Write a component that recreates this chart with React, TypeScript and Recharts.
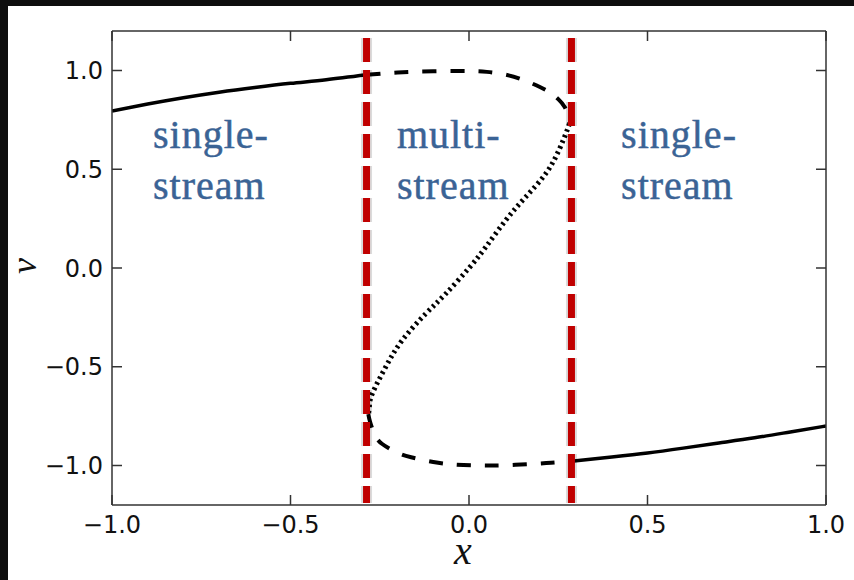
import React from 'react';
import { LineChart, Line, XAxis, YAxis, ReferenceLine, ReferenceDot } from 'recharts';

// Phase-space sheet v(x), split into single- and multi-stream pieces
const outerLeft: [number, number][] = [
  [-1.0, 0.795], [-0.9, 0.83], [-0.8, 0.862], [-0.7, 0.89], [-0.6, 0.914],
  [-0.5, 0.935], [-0.4, 0.953], [-0.287, 0.978],
];
const foldTop: [number, number][] = [
  [-0.287, 0.978], [-0.2, 0.99], [-0.1, 0.996], [0.0, 0.997], [0.05, 0.993],
  [0.1, 0.98], [0.154, 0.951], [0.2, 0.915], [0.226, 0.89], [0.25, 0.855],
  [0.268, 0.815], [0.278, 0.77], [0.281, 0.73],
];
const innerBranch: [number, number][] = [
  [0.281, 0.73], [0.275, 0.698], [0.252, 0.597], [0.215, 0.478], [0.159, 0.36],
  [0.103, 0.242], [0.047, 0.106], [0.0, 0.0], [-0.065, -0.13], [-0.121, -0.231],
  [-0.187, -0.366], [-0.233, -0.5], [-0.271, -0.637], [-0.279, -0.7], [-0.282, -0.74],
];
const foldBottom: [number, number][] = [
  [-0.282, -0.74], [-0.277, -0.78], [-0.265, -0.84], [-0.244, -0.89], [-0.2, -0.935],
  [-0.162, -0.958], [-0.1, -0.982], [-0.04, -0.995], [0.03, -1.0], [0.1, -0.999],
  [0.18, -0.992], [0.23, -0.986], [0.287, -0.978],
];
const outerRight: [number, number][] = [
  [0.287, -0.978], [0.4, -0.957], [0.5, -0.937], [0.6, -0.912], [0.7, -0.886],
  [0.8, -0.86], [0.9, -0.83], [1.0, -0.8],
];

// Caustic positions bounding the multi-stream region
const causticX = [-0.287, 0.287];

const xTicks = [-1.0, -0.5, 0.0, 0.5, 1.0];
const yTicks = [-1.0, -0.5, 0.0, 0.5, 1.0];

// Region captions: [x, v, first line, second line]
const regionLabels: [number, number, string, string][] = [
  [-0.885, 0.607, 'single-', 'stream'],
  [-0.202, 0.607, 'multi-', 'stream'],
  [0.426, 0.607, 'single-', 'stream'],
];

const toRows = (pts: [number, number][]) => pts.map(([x, v]) => ({ x, v }));

const AXIS = '#333333';
const TEXT = '#111111';
const TICK_FONT = 'DejaVu Sans';
const SERIF = 'Liberation Serif';
const LABEL_BLUE = '#3a6395';
const fmt = (n: number) => (n < 0 ? '\u2212' : '') + Math.abs(n).toFixed(1);

const BottomTick = (p: any) => (
  <g>
    <line x1={p.x} x2={p.x} y1={p.y} y2={p.y - 10} stroke={AXIS} strokeWidth={1.5} />
    <text x={p.x} y={p.y + 28} textAnchor="middle" fontFamily={TICK_FONT} fontSize={24} fill={TEXT}>
      {fmt(p.payload.value)}
    </text>
  </g>
);
const TopTick = (p: any) => (
  <line x1={p.x} x2={p.x} y1={p.y} y2={p.y + 10} stroke={AXIS} strokeWidth={1.5} />
);
const LeftTick = (p: any) => (
  <g>
    <line x1={p.x} x2={p.x + 10} y1={p.y} y2={p.y} stroke={AXIS} strokeWidth={1.5} />
    <text x={p.x - 9} y={p.y + 8.5} textAnchor="end" fontFamily={TICK_FONT} fontSize={24} fill={TEXT}>
      {fmt(p.payload.value)}
    </text>
  </g>
);
const RightTick = (p: any) => (
  <line x1={p.x} x2={p.x - 10} y1={p.y} y2={p.y} stroke={AXIS} strokeWidth={1.5} />
);

const RegionText = (first: string, second: string) => (p: any) => (
  <text
    x={p.cx}
    y={p.cy}
    fontFamily={SERIF}
    fontSize={40}
    letterSpacing={1}
    fill={LABEL_BLUE}
    stroke={LABEL_BLUE}
    strokeWidth={0.5}
  >
    <tspan x={p.cx}>{first}</tspan>
    <tspan x={p.cx} dy={51}>{second}</tspan>
  </text>
);

export default function App() {
  return (
    <div style={{ position: 'fixed', left: 0, top: 0, width: 854, height: 580, background: '#0e0e0e' }}>
      <div style={{ position: 'absolute', left: 8, top: 6, width: 846, height: 574, background: '#ffffff' }} />
      <div style={{ position: 'absolute', left: 0, top: 0 }}>
        <LineChart width={854} height={580} margin={{ top: 30, right: 27, left: 0, bottom: 0 }}>
          <XAxis
            xAxisId="bottom"
            type="number"
            dataKey="x"
            domain={[-1, 1]}
            ticks={xTicks}
            interval={0}
            allowDataOverflow
            height={75}
            tickSize={0}
            tickMargin={0}
            tickLine={false}
            axisLine={{ stroke: AXIS, strokeWidth: 1.5 }}
            tick={BottomTick}
            label={{
              content: () => (
                <text x={463} y={564} textAnchor="middle" fontFamily={SERIF} fontStyle="italic" fontSize={40} fill={TEXT}>
                  x
                </text>
              ),
            }}
          />
          <XAxis
            xAxisId="top"
            orientation="top"
            type="number"
            dataKey="x"
            domain={[-1, 1]}
            ticks={xTicks}
            interval={0}
            allowDataOverflow
            height={1}
            tickSize={0}
            tickMargin={0}
            tickLine={false}
            axisLine={{ stroke: AXIS, strokeWidth: 1.5 }}
            tick={TopTick}
          />
          <YAxis
            yAxisId="left"
            type="number"
            domain={[-1.2, 1.2]}
            ticks={yTicks}
            interval={0}
            allowDataOverflow
            width={112}
            tickSize={0}
            tickMargin={0}
            tickLine={false}
            axisLine={{ stroke: AXIS, strokeWidth: 1.5 }}
            tick={LeftTick}
            label={{
              content: () => (
                <text
                  x={36}
                  y={266}
                  transform="rotate(-90 36 266)"
                  textAnchor="middle"
                  fontFamily={SERIF}
                  fontStyle="italic"
                  fontSize={36}
                  fill={TEXT}
                >
                  v
                </text>
              ),
            }}
          />
          <YAxis
            yAxisId="right"
            orientation="right"
            type="number"
            domain={[-1.2, 1.2]}
            ticks={yTicks}
            interval={0}
            allowDataOverflow
            width={1}
            tickSize={0}
            tickMargin={0}
            tickLine={false}
            axisLine={{ stroke: AXIS, strokeWidth: 1.5 }}
            tick={RightTick}
          />

          <Line xAxisId="bottom" yAxisId="left" data={toRows(outerLeft)} dataKey="v" type="natural" stroke="#000" strokeWidth={3.5} dot={false} activeDot={false} isAnimationActive={false} />
          <Line xAxisId="bottom" yAxisId="left" data={toRows(foldTop)} dataKey="v" type="natural" stroke="#000" strokeWidth={4} strokeDasharray="14 14" dot={false} activeDot={false} isAnimationActive={false} />
          <Line xAxisId="bottom" yAxisId="left" data={toRows(innerBranch)} dataKey="v" type="natural" stroke="#000" strokeWidth={5} strokeDasharray="2.5 3.5" dot={false} activeDot={false} isAnimationActive={false} />
          <Line xAxisId="bottom" yAxisId="left" data={toRows(foldBottom)} dataKey="v" type="natural" stroke="#000" strokeWidth={4} strokeDasharray="14 14" dot={false} activeDot={false} isAnimationActive={false} />
          <Line xAxisId="bottom" yAxisId="left" data={toRows(outerRight)} dataKey="v" type="natural" stroke="#000" strokeWidth={3.5} dot={false} activeDot={false} isAnimationActive={false} />

          {causticX.map((cx) => (
            <ReferenceLine
              key={`glow-${cx}`}
              xAxisId="bottom"
              yAxisId="left"
              segment={[{ x: cx, y: 1.165 }, { x: cx, y: -1.19 }]}
              stroke="rgba(0,0,0,0.14)"
              strokeWidth={11}
              strokeDasharray="24 8"
              ifOverflow="visible"
            />
          ))}
          {causticX.map((cx) => (
            <ReferenceLine
              key={`caustic-${cx}`}
              xAxisId="bottom"
              yAxisId="left"
              segment={[{ x: cx, y: 1.165 }, { x: cx, y: -1.19 }]}
              stroke="#c00000"
              strokeWidth={7}
              strokeDasharray="24 8"
              ifOverflow="visible"
            />
          ))}

          {regionLabels.map(([x, v, a, b]) => (
            <ReferenceDot
              key={`${a}${x}`}
              xAxisId="bottom"
              yAxisId="left"
              x={x}
              y={v}
              r={0}
              ifOverflow="visible"
              shape={RegionText(a, b)}
            />
          ))}
        </LineChart>
      </div>
    </div>
  );
}
